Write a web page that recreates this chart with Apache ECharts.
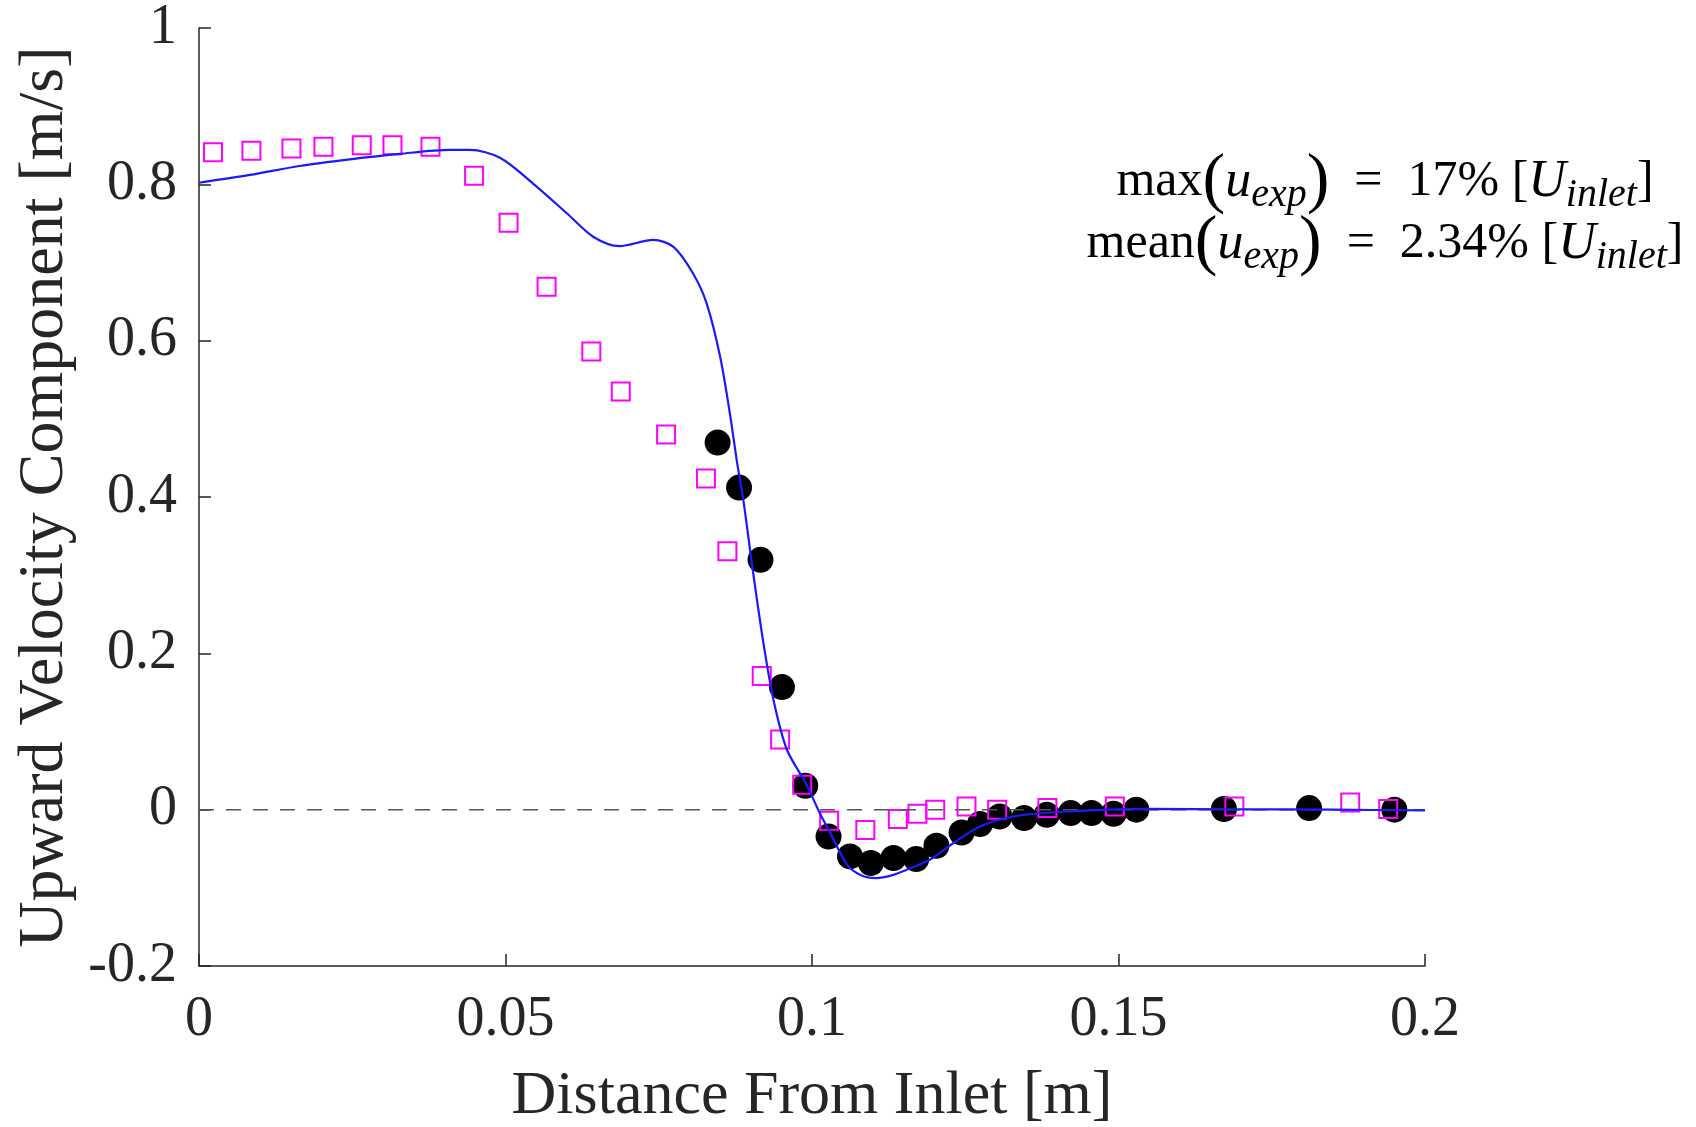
<!DOCTYPE html>
<html>
<head>
<meta charset="utf-8">
<script src="https://cdn.jsdelivr.net/npm/echarts@6/dist/echarts.min.js"></script>
<style>
html,body{margin:0;padding:0;background:#fff;}
#chart{width:1696px;height:1127px;}
</style>
</head>
<body>
<div id="chart"></div>
<script>
// Simulation curve (blue line)
const lineX = [0, 0.0083, 0.0164, 0.0246, 0.0328, 0.0409, 0.0442, 0.0491, 0.0545, 0.0600, 0.0643, 0.0686, 0.0741, 0.0774, 0.0806, 0.0828, 0.0850, 0.0866, 0.0878, 0.0888, 0.0904, 0.0920, 0.0937, 0.0959, 0.0991, 0.1013, 0.1030, 0.1057, 0.1080, 0.1105, 0.1130, 0.1154, 0.1192, 0.1230, 0.1274, 0.1329, 0.1400, 0.1546, 0.1700, 0.1850, 0.2000];
const lineY = [0.802, 0.812, 0.8235, 0.832, 0.839, 0.844, 0.844, 0.834, 0.801, 0.763, 0.733, 0.721, 0.729, 0.720, 0.686, 0.648, 0.580, 0.507, 0.443, 0.396, 0.303, 0.217, 0.141, 0.077, 0.032, -0.005, -0.030, -0.070, -0.084, -0.0875, -0.084, -0.077, -0.064, -0.043, -0.0215, -0.0087, -0.003, 0.001, 0.0005, 0.000, -0.001];

// Experimental data (black circles)
const circX = [0.0846, 0.0881, 0.0916, 0.0951, 0.0989, 0.1027, 0.1062, 0.1096, 0.1133, 0.1170, 0.1203, 0.1244, 0.1274, 0.1306, 0.1346, 0.1383, 0.1422, 0.1456, 0.1492, 0.1529, 0.1672, 0.1811, 0.1950];
const circY = [0.4696, 0.412, 0.3196, 0.1568, 0.0306, -0.0343, -0.0598, -0.0683, -0.0619, -0.0632, -0.0462, -0.0292, -0.0184, -0.0087, -0.0108, -0.0065, -0.0044, -0.0044, -0.0052, 0.0, 0.0008, 0.002, 0.0];

// Other data (magenta squares)
const sqX = [0.00228, 0.00855, 0.01508, 0.0203, 0.02655, 0.03156, 0.03776, 0.04488, 0.0505, 0.0567, 0.0640, 0.0688, 0.0762, 0.0827, 0.0862, 0.0918, 0.0948, 0.0984, 0.1028, 0.1087, 0.1140, 0.1172, 0.1201, 0.1252, 0.1302, 0.1384, 0.1494, 0.1689, 0.1878, 0.1940];
const sqY = [0.841, 0.843, 0.846, 0.848, 0.850, 0.850, 0.848, 0.811, 0.751, 0.669, 0.586, 0.535, 0.480, 0.4236, 0.3307, 0.1709, 0.0898, 0.0318, -0.0142, -0.0261, -0.0120, -0.0052, 0.0, 0.0041, 0.0, 0.002, 0.004, 0.004, 0.0092, 0.001];

// Zero reference line
const zeroX = [0, 0.2];
const zeroY = [0, 0];

const xTickLabels = ['0', '0.05', '0.1', '0.15', '0.2'];
const yTickLabels = ['-0.2', '0', '0.2', '0.4', '0.6', '0.8', '1'];

const xTitle = 'Distance From Inlet [m]';
const yTitle = 'Upward Velocity Component [m/s]';

const zip = (xs, ys) => xs.map((x, i) => [x, ys[i]]);
const fmt = (arr, min, step) => v => {
  const i = Math.round((v - min) / step);
  return arr[i] !== undefined ? arr[i] : '';
};

const SERIF = '"Liberation Serif", "Times New Roman", serif';
const AX = '#262626';

const richStyles = {
  n: {fontFamily: SERIF, fontSize: 50, color: '#000', verticalAlign: 'middle'},
  b: {fontFamily: SERIF, fontSize: 68, color: '#000', verticalAlign: 'middle'},
  i: {fontFamily: SERIF, fontSize: 52, fontStyle: 'italic', color: '#000', verticalAlign: 'middle'},
  s: {fontFamily: SERIF, fontSize: 40, fontStyle: 'italic', color: '#000', verticalAlign: 'middle', padding: [26, 0, 0, 0]}
};

const chart = echarts.init(document.getElementById('chart'), null, {renderer: 'canvas'});
chart.setOption({
  animation: false,
  backgroundColor: '#ffffff',
  grid: {left: 199, right: 271, top: 28, bottom: 161, containLabel: false, outerBoundsMode: 'none'},
  xAxis: {
    type: 'value', min: 0, max: 0.2, interval: 0.05,
    axisLine: {show: true, onZero: false, lineStyle: {color: AX, width: 1.5}},
    axisTick: {show: true, inside: true, length: 12, lineStyle: {color: AX, width: 1.5}},
    splitLine: {show: false},
    axisLabel: {formatter: fmt(xTickLabels, 0, 0.05), fontFamily: SERIF, fontSize: 56, color: AX, margin: 26},
    name: xTitle, nameLocation: 'middle', nameGap: 100,
    nameTextStyle: {fontFamily: SERIF, fontSize: 62, color: AX}
  },
  yAxis: {
    type: 'value', min: -0.2, max: 1, interval: 0.2,
    axisLine: {show: true, onZero: false, lineStyle: {color: AX, width: 1.5}},
    axisTick: {show: true, inside: true, length: 12, lineStyle: {color: AX, width: 1.5}},
    splitLine: {show: false},
    axisLabel: {formatter: fmt(yTickLabels, -0.2, 0.2), fontFamily: SERIF, fontSize: 56, color: AX, margin: 22},
    name: yTitle, nameLocation: 'middle', nameGap: 113, nameRotate: 90,
    nameTextStyle: {fontFamily: SERIF, fontSize: 64, color: AX}
  },
  series: [
    {
      type: 'line', data: zip(zeroX, zeroY), symbol: 'none', silent: true,
      lineStyle: {color: '#555555', width: 1.5, type: [15, 12]}
    },
    {
      type: 'line', data: zip(lineX, lineY), symbol: 'none', smooth: 0.3,
      lineStyle: {color: '#1a1aff', width: 2.2}
    },
    {
      type: 'scatter', data: zip(circX, circY), symbol: 'circle', symbolSize: 26,
      itemStyle: {color: '#000000', opacity: 1}
    },
    {
      type: 'scatter', data: zip(sqX, sqY), symbol: 'rect', symbolSize: 18,
      itemStyle: {color: 'rgba(0,0,0,0)', borderColor: '#ff00ff', borderWidth: 2, opacity: 1}
    }
  ],
  graphic: [
    {
      type: 'text', x: 1385, y: 182,
      style: {
        text: '{n|max}{b|(}{i|u}{s|exp}{b|)}{n|  =  17% [}{i|U}{s|inlet}{n|]}',
        align: 'center', verticalAlign: 'middle',
        rich: richStyles
      }
    },
    {
      type: 'text', x: 1385, y: 244,
      style: {
        text: '{n|mean}{b|(}{i|u}{s|exp}{b|)}{n|  =  2.34% [}{i|U}{s|inlet}{n|]}',
        align: 'center', verticalAlign: 'middle',
        rich: richStyles
      }
    }
  ]
});
</script>
</body>
</html>
